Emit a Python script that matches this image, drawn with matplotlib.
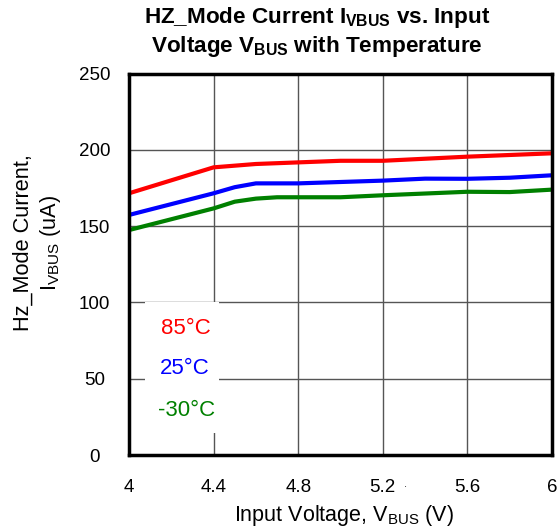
import matplotlib
matplotlib.use('Agg')
import matplotlib.pyplot as plt

plt.rcParams['font.family'] = ['Liberation Sans', 'DejaVu Sans']
plt.rcParams['mathtext.fontset'] = 'custom'
plt.rcParams['mathtext.rm'] = 'Liberation Sans'
plt.rcParams['mathtext.bf'] = 'Liberation Sans:bold'

# readings
x_85 = [4.0, 4.4, 4.6, 5.0, 5.2, 5.6, 6.0]
i_85 = [171.5, 188.5, 190.7, 192.8, 192.8, 195.5, 197.7]

x_25 = [4.0, 4.4, 4.5, 4.6, 4.8, 5.0, 5.2, 5.4, 5.6, 5.8, 6.0]
i_25 = [157.3, 171.5, 175.5, 178.0, 178.0, 178.9, 179.8, 181.1, 181.0, 181.7, 183.3]

x_m30 = [4.0, 4.4, 4.5, 4.6, 4.7, 5.0, 5.2, 5.6, 5.8, 6.0]
i_m30 = [147.4, 161.6, 166.0, 168.0, 168.9, 168.9, 170.2, 172.5, 172.3, 173.9]

xticks = [4, 4.4, 4.8, 5.2, 5.6, 6]
xlabels = ['4', '4.4', '4.8', '5.2', '5.6', '6']
yticks = [0, 50, 100, 150, 200, 250]

W, H = 557, 528
fig = plt.figure(figsize=(5.57, 5.28), dpi=100)
ax = fig.add_axes([129 / W, 1 - 455 / H, 423 / W, 381.5 / H])

ax.plot(x_85, i_85, color='#ff0000', lw=3, solid_capstyle='butt')
ax.plot(x_25, i_25, color='#0000ff', lw=3, solid_capstyle='butt')
ax.plot(x_m30, i_m30, color='#008000', lw=3, solid_capstyle='butt')

ax.set_xlim(4, 6)
ax.set_ylim(0, 250)
ax.set_xticks(xticks)
ax.set_xticklabels(xlabels)
ax.set_yticks(yticks)
ax.grid(True, color='#555555', lw=1)
ax.set_axisbelow(True)
ax.tick_params(length=0, labelsize=13.5)
ax.tick_params(axis='x', pad=17)
ax.tick_params(axis='y', pad=25)
for lab in ax.get_yticklabels():
    lab.set_ha('center')
for s in ax.spines.values():
    s.set_linewidth(2.5)

# legend box (white patch with coloured text)
ax.add_patch(plt.Rectangle((4.075, 14.5), 0.35, 86, facecolor='white',
                           edgecolor='none', zorder=2))
ax.text(4.27, 83, '85°C', color='#ff0000', fontsize=16, ha='center', va='center', zorder=3)
ax.text(4.265, 57, '25°C', color='#0000ff', fontsize=16, ha='center', va='center', zorder=3)
ax.text(4.27, 29, '-30°C', color='#008000', fontsize=16, ha='center', va='center', zorder=3)

fig.text(343.5 / W, 1 - 516 / H, 'Input Voltage, V$_{\\mathrm{BUS}}$ (V)', fontsize=15.5,
         ha='center', va='center')
fig.text(38 / W, 1 - 243 / H, 'Hz_Mode Current,\nI$_{\\mathrm{VBUS}}$ (uA)', fontsize=15.7,
         ha='center', va='center', rotation=90, linespacing=1.25)
fig.text(317 / W, 1 - 32 / H,
         'HZ_Mode Current I$_{\\mathbf{VBUS}}$ vs. Input\nVoltage V$_{\\mathbf{BUS}}$ with Temperature',
         fontsize=16.2, fontweight='bold', ha='center', va='center', linespacing=1.2)
fig.text(405 / W, 1 - 487 / H, '·', fontsize=7, ha='center', va='center')

fig.savefig('out.png', dpi=100)
